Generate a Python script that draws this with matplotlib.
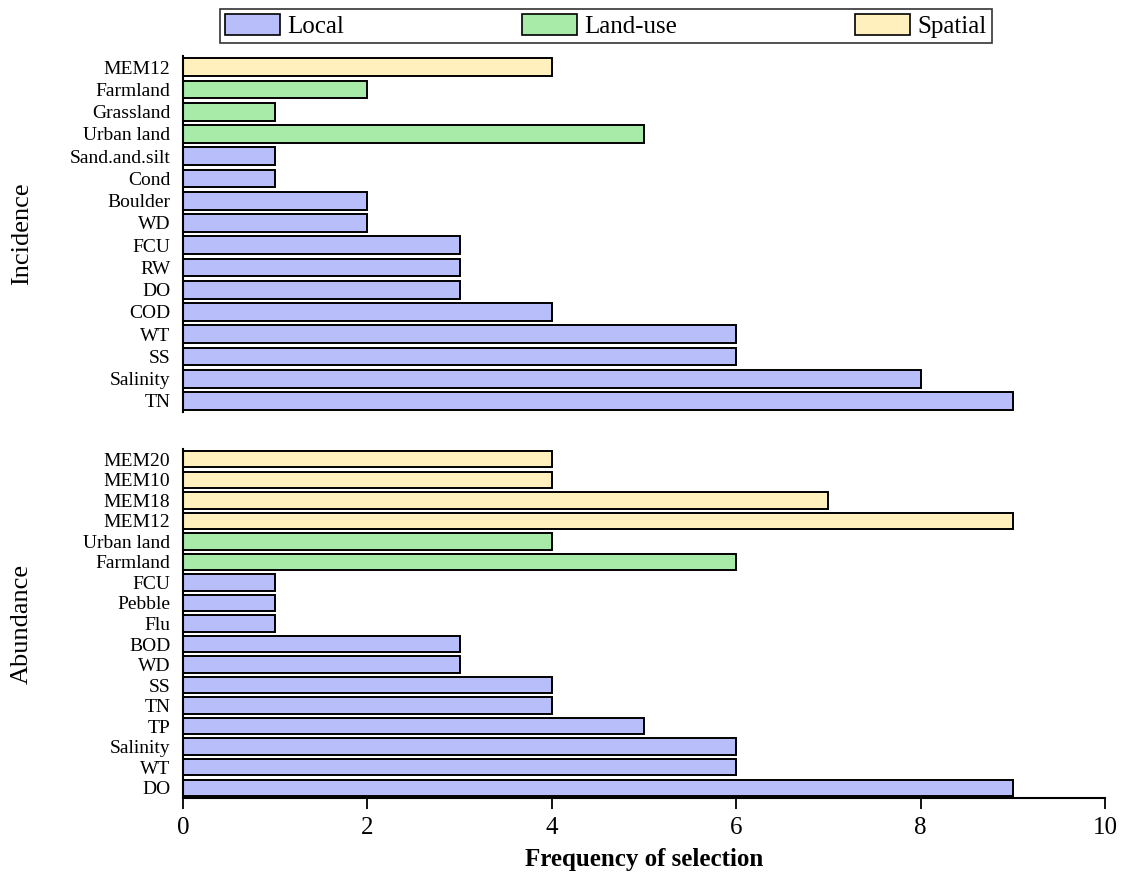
import matplotlib.pyplot as plt
from matplotlib.patches import Patch

plt.rcParams['font.family'] = ['Liberation Serif', 'DejaVu Serif']

# colours per group
group_colors = {'Local': '#b8befa', 'Land-use': '#a8eaa8', 'Spatial': '#fff0be'}

# DATA (listed top to bottom as in the figure)
inc_labels = ['MEM12', 'Farmland', 'Grassland', 'Urban land', 'Sand.and.silt', 'Cond',
              'Boulder', 'WD', 'FCU', 'RW', 'DO', 'COD', 'WT', 'SS', 'Salinity', 'TN']
inc_values = [4, 2, 1, 5, 1, 1, 2, 2, 3, 3, 3, 4, 6, 6, 8, 9]
inc_groups = ['Spatial', 'Land-use', 'Land-use', 'Land-use'] + ['Local'] * 12

abu_labels = ['MEM20', 'MEM10', 'MEM18', 'MEM12', 'Urban land', 'Farmland', 'FCU', 'Pebble',
              'Flu', 'BOD', 'WD', 'SS', 'TN', 'TP', 'Salinity', 'WT', 'DO']
abu_values = [4, 4, 7, 9, 4, 6, 1, 1, 1, 3, 3, 4, 4, 5, 6, 6, 9]
abu_groups = ['Spatial'] * 4 + ['Land-use'] * 2 + ['Local'] * 11

x_ticks = [0, 2, 4, 6, 8, 10]

fig = plt.figure(figsize=(11.26, 8.81), dpi=100)
ax_top = fig.add_axes([0.1625, 0.5323, 0.8188, 0.4041])
ax_bot = fig.add_axes([0.1625, 0.0942, 0.8188, 0.3962])


def draw_panel(ax, labels, values, groups, ylabel):
    n = len(labels)
    pos = list(range(n - 1, -1, -1))
    ax.barh(pos, values, height=0.8, color=[group_colors[g] for g in groups],
            edgecolor='black', linewidth=1.4)
    ax.set_yticks(pos)
    ax.set_yticklabels(labels, fontsize=14)
    ax.set_ylim(-0.5, n - 0.5)
    ax.set_xlim(0, 10)
    ax.tick_params(axis='y', length=0, pad=9)
    for s in ['top', 'right']:
        ax.spines[s].set_visible(False)
    ax.spines['left'].set_linewidth(1.5)
    ax.set_ylabel(ylabel, fontsize=19)
    ax.yaxis.set_label_coords(-0.163, 0.5)


draw_panel(ax_top, inc_labels, inc_values, inc_groups, 'Incidence')
draw_panel(ax_bot, abu_labels, abu_values, abu_groups, 'Abundance')

ax_top.spines['bottom'].set_visible(False)
ax_top.set_xticks([])

ax_bot.spines['bottom'].set_linewidth(1.5)
ax_bot.set_xticks(x_ticks)
ax_bot.tick_params(axis='x', direction='out', length=8, width=1.3, labelsize=18, pad=6)
ax_bot.set_xlabel('Frequency of selection', fontsize=18, fontweight='bold', labelpad=6)

handles = [Patch(facecolor=group_colors[g], edgecolor='black', linewidth=1.2, label=g)
           for g in ['Local', 'Land-use', 'Spatial']]
leg = fig.legend(handles=handles, ncol=3, mode='expand', loc='lower left',
                 bbox_to_anchor=(220 / 1126, 1 - 43 / 881, 772 / 1126, 33 / 881),
                 prop={'family': 'Liberation Serif', 'size': 18}, frameon=True,
                 fancybox=False, handlelength=2.2, handleheight=0.9, handletextpad=0.3,
                 borderaxespad=0, borderpad=0.2)
leg.get_frame().set_edgecolor('black')
leg.get_frame().set_linewidth(1.2)

fig.savefig('out.png', dpi=100)
